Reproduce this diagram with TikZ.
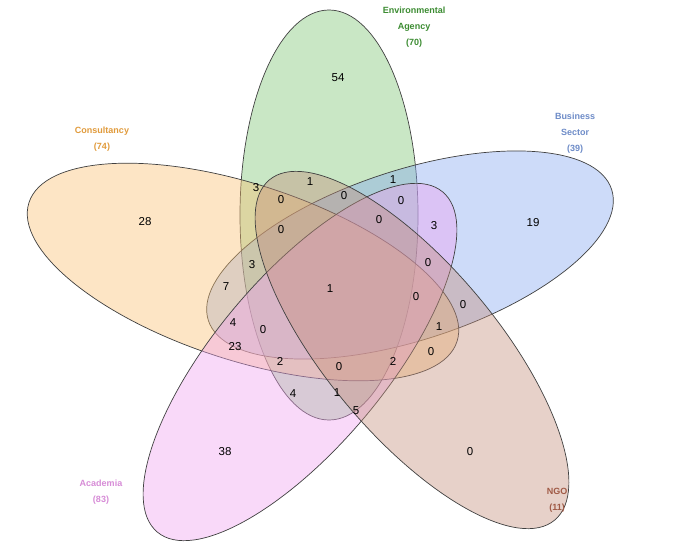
\documentclass[tikz,border=0pt]{standalone}
\usepackage{fontspec}
\setmainfont{Liberation Sans}
\definecolor{cG}{RGB}{120,195,110}
\definecolor{cB}{RGB}{130,165,240}
\definecolor{cO}{RGB}{250,190,110}
\definecolor{cP}{RGB}{240,160,240}
\definecolor{cN}{RGB}{195,140,120}
\definecolor{tG}{RGB}{60,140,50}
\definecolor{tB}{RGB}{110,140,200}
\definecolor{tO}{RGB}{225,155,60}
\definecolor{tP}{RGB}{215,140,215}
\definecolor{tN}{RGB}{160,90,70}
\begin{document}
\begin{tikzpicture}[x=1pt,y=-1pt,
  setshape/.style={draw=black!75,line width=0.7pt,fill opacity=0.4},
  num/.style={font=\fontsize{11.5}{12}\selectfont},
  lab/.style={font=\fontsize{9}{16}\selectfont\bfseries,align=center}]
\useasboundingbox[fill=white] (0,0) rectangle (700,548);
\draw[setshape,fill=cG] (329,215) ellipse [x radius=89,y radius=205];
\draw[setshape,fill=cB,rotate around={18:(410,255)}] (410,255) ellipse [x radius=212,y radius=85];
\draw[setshape,fill=cO,rotate around={-18:(243,272)}] (243,272) ellipse [x radius=225,y radius=88];
\draw[setshape,fill=cP,rotate around={50:(300,362)}] (300,362) ellipse [x radius=222,y radius=85];
\draw[setshape,fill=cN,rotate around={-50:(412,350)}] (412,350) ellipse [x radius=222,y radius=85];
\foreach \t/\x/\y [count=\i] in {54/338/78,28/145/222,19/533/223,38/225/452,0/470/452,
 3/256/188,1/310/182,0/344/196,1/393/180,0/401/201,0/281/200,0/379/220,3/434/226,0/281/230,
 3/252/265,7/226/287,0/428/263,1/330/289,0/416/297,0/463/305,4/233/323,0/263/330,1/439/327,
 23/235/347,2/280/361,0/339/367,2/393/361,0/431/352,4/293/394,1/337/393,5/356/411}
 \node[num] (n\i) at (\x,\y) {\t};
\node[lab,text=tG] (lG) at (414,27) {Environmental\\Agency\\(70)};
\node[lab,text=tB] (lB) at (575,133) {Business\\Sector\\(39)};
\node[lab,text=tO] (lO) at (102,139) {Consultancy\\(74)};
\node[lab,text=tP] (lP) at (101,492) {Academia\\(83)};
\node[lab,text=tN] (lN) at (557,500) {NGO\\(11)};
\end{tikzpicture}
\end{document}
